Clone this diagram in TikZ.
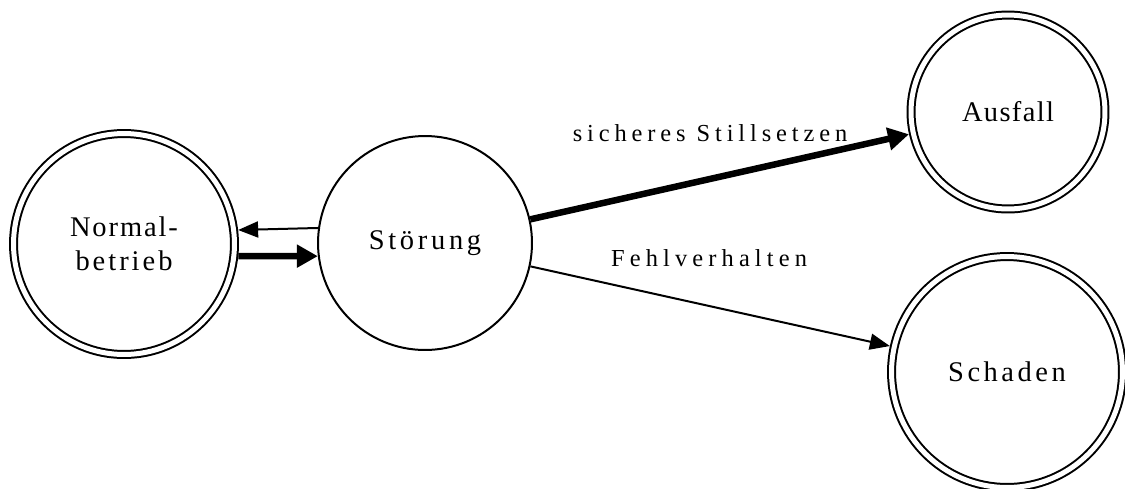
\documentclass[tikz,border=0pt]{standalone}
\usepackage{fontspec}
\setmainfont{Liberation Serif}
\usetikzlibrary{arrows.meta}

\newcommand\statefont{\fontsize{16.2}{19.3}\selectfont}
\newcommand\edgefont{\fontsize{13.9}{16.5}\selectfont}
\newcommand\track[2]{{\addfontfeature{LetterSpace=#1}#2}}

\begin{document}
\begin{tikzpicture}[
  x=0.02cm, y=-0.02cm,
  state/.style={
    circle,
    draw=black,
    line width=0.04cm,
    inner sep=0pt,
    font=\statefont
  },
  final/.style={
    state,
    double,
    double distance=0.1cm,
    outer sep=0.09cm
  },
  flow/.style={
    -{Triangle[length=0.4cm,width=0.32cm]},
    line width=0.04cm
  },
  heavy/.style={
    -{Triangle[length=0.42cm,width=0.44cm]},
    line width=0.13cm
  },
  tag/.style={
    anchor=base,
    inner sep=0pt,
    font=\edgefont
  }
]
\useasboundingbox (0,0) rectangle (1125,488);

% States
\node[final, minimum size=4.42cm, align=center] (norm) at (124,244)
  {\track{6.7}{Normal-}\\\track{10.5}{betrieb}};
\node[state, minimum size=4.28cm] (stoer) at (425,243) {\track{13}{Störung}};
\node[final, minimum size=3.88cm] (ausf) at (1008,112) {\track{4.7}{Ausfall}};
\node[final, minimum size=4.62cm] (schad) at (1007,372) {\track{12.5}{Schaden}};

% Transitions
\draw[flow] (stoer.172.5) -- (norm.7.6);
\draw[heavy] (norm.-6.5) -- (stoer.187.5);
\draw[heavy] (stoer) -- (ausf)
  node[tag, pos=0.4745, yshift=0.75cm] {\track{20}{sicheres Stillsetzen}};
\draw[flow] (stoer) -- (schad)
  node[tag, pos=0.497, yshift=0.78cm] {\track{21}{Fehlverhalten}};

\end{tikzpicture}
\end{document}
